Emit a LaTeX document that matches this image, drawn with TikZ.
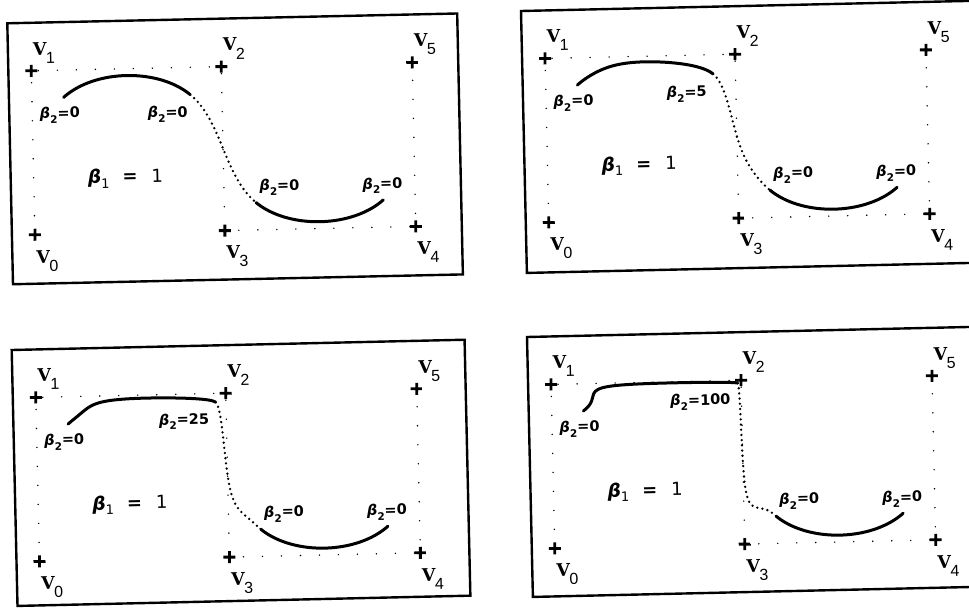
\documentclass[tikz,border=0pt]{standalone}
\usepackage{fontspec}
\newfontfamily\vfont{DejaVu Serif}
\newfontfamily\lsans{Liberation Sans}
\newfontfamily\bfont{DejaVu Sans}
\tikzset{
  frame/.style={line width=2.4pt},
  polyline/.style={line width=1.6pt, line cap=round, dash pattern=on 0pt off 19pt},
  curvesolid/.style={line width=3pt, line cap=round, line join=round},
  curvedot/.style={line width=2.6pt, line cap=round, dash pattern=on 0pt off 5.2pt},
  vert/.style={inner sep=0pt, minimum size=12pt, path picture={\draw[line width=2.8pt]
      (path picture bounding box.north)--(path picture bounding box.south)
      (path picture bounding box.west)--(path picture bounding box.east);}},
  vlabel/.style={inner sep=0pt, anchor=base west},
  blabel/.style={inner sep=0pt, anchor=base},
  b1label/.style={inner sep=0pt, anchor=base west},
  declare function={
    sm(\xu)=10*\xu^3-15*\xu^4+6*\xu^5;
    bsx(\xu,\xb,\xp,\xq,\xr,\xs)=2*(1-\xu)^3/(12+\xb)*\xp
      +((6*\xu^3-12*\xu^2+8+\xb*(2*\xu^3-3*\xu^2+1))/(12+\xb))*\xq
      +((-6*\xu^3+6*\xu^2+6*\xu+2+\xb*(3*\xu^2-2*\xu^3))/(12+\xb))*\xr
      +2*\xu^3/(12+\xb)*\xs;
  }
}
\newcommand{\vlab}[1]{{\vfont\bfseries\fontsize{17.5}{17.5}\selectfont V}\kern-0.8pt\raisebox{-8.4pt}{\lsans\fontsize{16}{16}\selectfont #1}}
\newcommand{\vtxtop}[4]{%
  \node[vert] (#1) at (#2,#3) {};
  \node[vlabel] (#1l) at ({#2+2},{#3-15.7}) {\vlab{#4}};}
\newcommand{\vtxbot}[4]{%
  \node[vert] (#1) at (#2,#3) {};
  \node[vlabel] (#1l) at ({#2+1},{#3+28.3}) {\vlab{#4}};}
\newcommand{\bsmall}[1]{{\bfont\bfseries\itshape\fontsize{14.5}{14.5}\selectfont β}\raisebox{-5pt}{\bfont\bfseries\fontsize{10.5}{10.5}\selectfont 2}{\bfont\bfseries\fontsize{14.5}{14.5}\selectfont =#1}}
\newcommand{\bone}{{\bfont\bfseries\itshape\fontsize{18.5}{18.5}\selectfont β}\raisebox{-5pt}{\bfont\fontsize{13}{13}\selectfont 1}\hspace{13pt}{\bfont\bfseries\fontsize{18}{18}\selectfont =}\hspace{14pt}{\bfont\fontsize{18}{18}\selectfont 1}}
% #1 prefix, #2 shift, #3 angle, #4 width, #5 height, #6 beta2, #7 joint text, #8 #9 joint label centre
\newcommand{\panel}[9]{%
\begin{scope}[shift={(#2)}, rotate=#3, transform shape]
  \draw[frame] (0,0) rectangle (#4,#5);
  \vtxbot{#1v0}{23}{212}{0}
  \vtxtop{#1v1}{23}{48}{1}
  \vtxtop{#1v2}{213}{48}{2}
  \vtxbot{#1v3}{213}{212}{3}
  \vtxbot{#1v4}{404}{212}{4}
  \vtxtop{#1v5}{404}{48}{5}
  \draw[polyline] (#1v0.center) -- (#1v1.center) -- (#1v2.center) -- (#1v3.center)
     -- (#1v4.center) -- (#1v5.center);
  \draw[curvesolid] plot[variable=\t, domain=0:1, samples=70]
     ({bsx(\t,#6*sm(\t),23,23,213,213)},{bsx(\t,#6*sm(\t),212,48,48,212)});
  \draw[curvedot] plot[variable=\t, domain=0:1, samples=70]
     ({bsx(\t,#6*(1-sm(\t)),23,213,213,404)},{bsx(\t,#6*(1-sm(\t)),48,48,212,212)});
  \draw[curvesolid] plot[variable=\t, domain=0:1, samples=70]
     ({bsx(\t,0,213,213,404,404)},{bsx(\t,0,48,212,212,48)});
  \node[blabel] (#1ls) at (50.5,96) {\bsmall{0}};
  \node[blabel] (#1lj) at (#8,{#9+3}) {\bsmall{#7}};
  \node[blabel] (#1lk) at (268.5,173) {\bsmall{0}};
  \node[blabel] (#1le) at (371.5,173.5) {\bsmall{0}};
  \node[b1label] (#1lb) at (77,162) {\bone};
\end{scope}}
\begin{document}
\begin{tikzpicture}[x=1pt, y=-1pt]
  \useasboundingbox (0,0) rectangle (969,608);
  \fill[white] (0,0) rectangle (969,608);
  \clip (0,0) rectangle (969,608);
  \panel{pa}{7.3,23.3}{1.25}{450}{261}{0}{0}{158.4}{94.5}
  \panel{pb}{521,11}{1.29}{452}{262}{5}{5}{163.8}{86.7}
  \panel{pc}{11.7,350}{1.3}{453}{256}{25}{25}{170.7}{75.5}
  \panel{pd}{527,337}{1.3}{452}{260}{100}{100}{171.9}{69.1}
\end{tikzpicture}
\end{document}
